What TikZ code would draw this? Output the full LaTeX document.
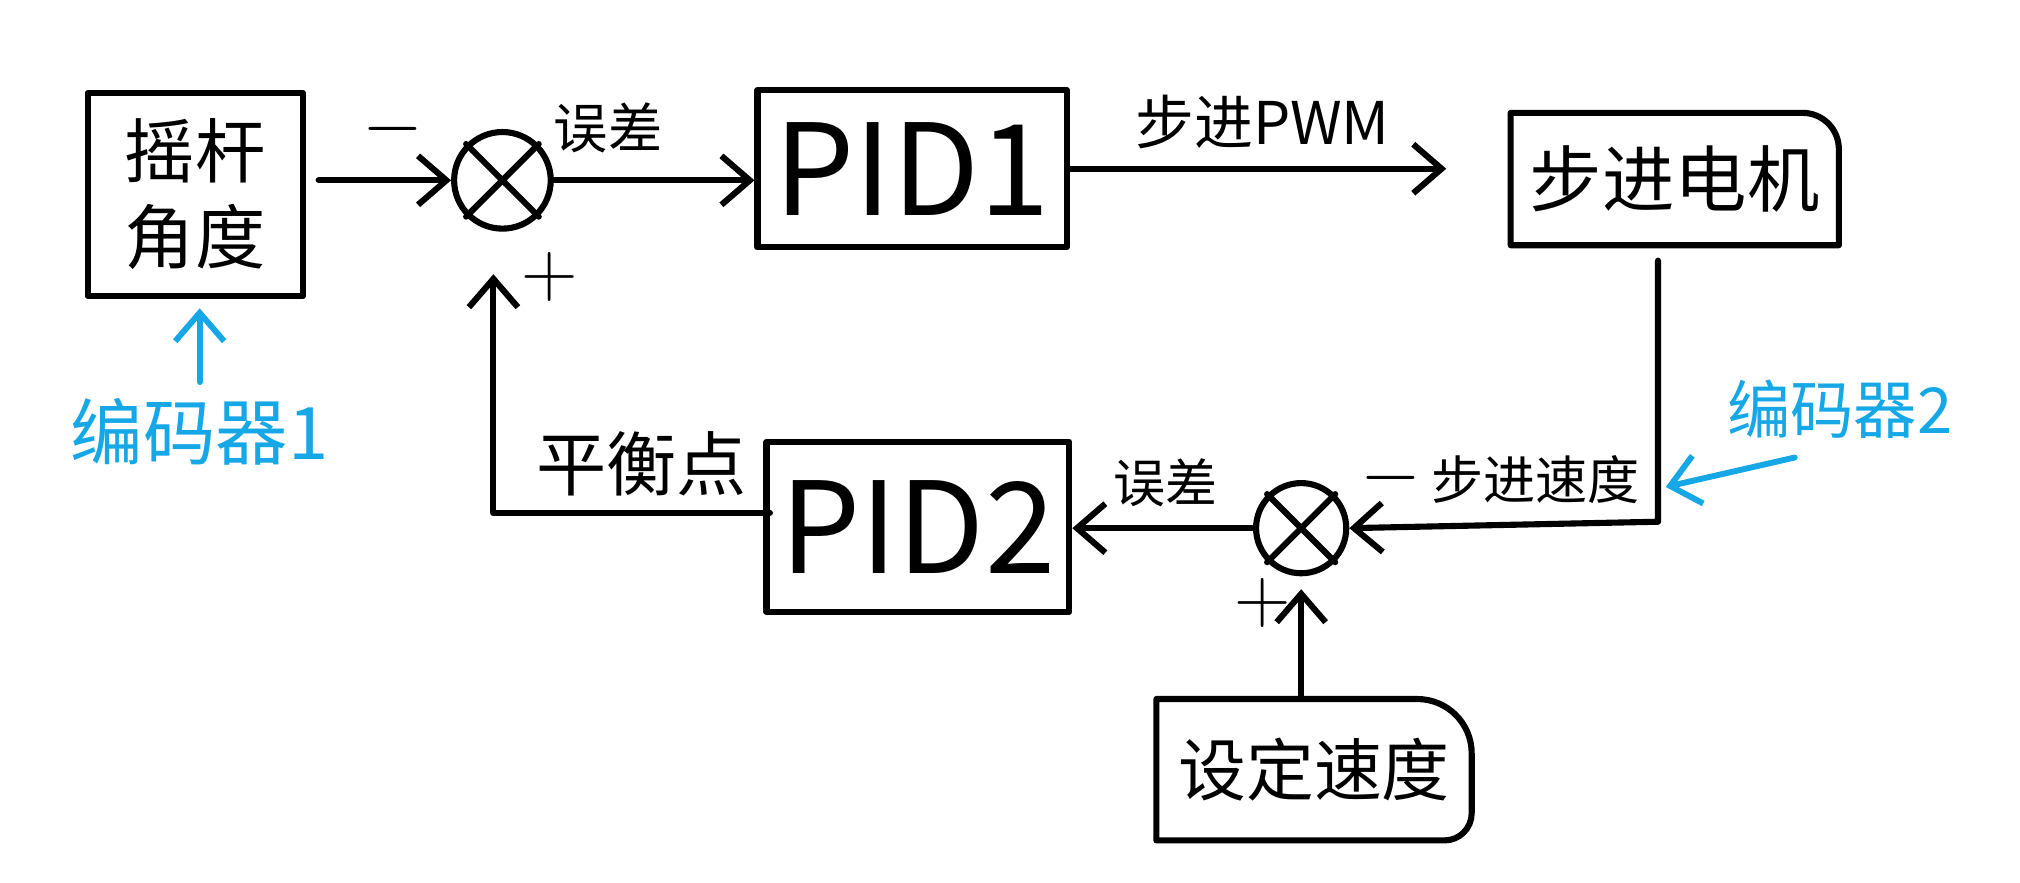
\documentclass[tikz,border=0pt]{standalone}
\usepackage{fontspec}
\setmainfont{Noto Sans CJK SC}
\usetikzlibrary{arrows.meta,calc}
\definecolor{encblue}{RGB}{22,167,230}
\newcommand{\myfs}[1]{\fontsize{#1}{#1}\selectfont}
\begin{document}
\begin{tikzpicture}[
  x=1cm,y=1cm,
  line width=1.35pt, line cap=round, line join=round,
  >={Straight Barb[length=2.2mm,width=3.8mm]},
  blk/.style={draw, rectangle, inner sep=0pt},
  nodraw/.style={rectangle, inner sep=0pt},
  sumnode/.style={draw, circle, inner sep=0pt, minimum size=#1},
  lbl/.style={inner sep=0pt},
  sgn/.style={inner sep=0pt, font={\myfs{18}}},
  enc/.style={encblue, text=encblue, inner sep=0pt},
]
\useasboundingbox (0,0) rectangle (15.68,6.85);

% blocks
\node[blk, minimum width=1.67cm, minimum height=1.58cm, align=center,
      font={\fontsize{15.5}{19}\selectfont}] (rock) at (1.515,5.34) {摇杆\\角度};
\node[sumnode=0.75cm] (s1) at (3.90,5.45) {};
\draw (s1.north west) -- (s1.south east) (s1.north east) -- (s1.south west);
\node[blk, minimum width=2.40cm, minimum height=1.22cm, font={\myfs{28}}] (pid1) at (7.08,5.54) {PID1};
\node[nodraw, minimum width=2.50cm, minimum height=0.98cm, font={\myfs{16}}] (motor) at (13.00,5.46) {步进电机};
\draw (motor.south west) [sharp corners] -- (motor.north west)
      [rounded corners=8pt] -- (motor.north east) [sharp corners] -- (motor.south east) -- cycle;
\node[sumnode=0.70cm] (s2) at (10.10,2.75) {};
\draw (s2.north west) -- (s2.south east) (s2.north east) -- (s2.south west);
\node[blk, minimum width=2.35cm, minimum height=1.32cm, font={\myfs{28}}] (pid2) at (7.125,2.76) {PID2};
\node[nodraw, minimum width=2.40cm, minimum height=1.05cm, font={\myfs{15}}] (setv) at (10.20,0.875) {设定速度};
\draw (setv.south west) [sharp corners] -- (setv.north west)
      [rounded corners=12pt] -- (setv.north east) [rounded corners=6pt] -- (setv.south east)
      [sharp corners] -- cycle;

% labels
\node[sgn] (m1) at (3.05,5.85) {$-$};
\node[lbl, font={\myfs{12}}] (e1) at (4.72,5.86) {误差};
\node[lbl, font={\myfs{13}}] (pwm) at (9.80,5.90) {步进PWM};
\node[sgn] (p1) at (4.27,4.70) {$+$};
\node[lbl, font={\myfs{15.5}}] (bal) at (4.98,3.25) {平衡点};
\node[lbl, font={\myfs{11.5}}] (e2) at (9.05,3.10) {误差};
\node[sgn] (m2) at (10.80,3.14) {$-$};
\node[lbl, font={\myfs{11.5}}] (spd) at (11.92,3.13) {步进速度};
\node[sgn] (p2) at (9.80,2.17) {$+$};
\node[enc, font={\myfs{16}}] (enc1) at (1.55,3.50) {编码器1};
\node[enc, font={\myfs{14}}] (enc2) at (14.28,3.67) {编码器2};

% connectors
\coordinate (c1) at (12.87,2.80);
\coordinate (c2) at (3.83,2.87);
\coordinate (e2tip) at (12.93,3.07);

\draw[->, shorten <=0.1cm] (rock.east |- s1) -- (s1.west);
\draw[->] (s1.east) -- (pid1.west |- s1.east);
\draw[->, shorten >=0.5cm] (pid1.east) -- (motor.west |- pid1.east);
\draw[->, shorten <=0.12cm] (motor.south -| c1) -- (c1) -- (s2.east);
\draw[->] (s2.west) -- (pid2.east |- s2.west);
\draw[->, shorten >=0.33cm, shorten <=-0.05cm] (pid2.west |- c2) -- (c2) -- (c2 |- s1.south);
\draw[->, shorten >=0.1cm] (s2 |- setv.north) -- (s2.south);
\draw[enc, ->, line width=1.3pt, shorten <=0.1cm, shorten >=0.07cm] (enc1.north) -- (enc1.north |- rock.south);
\draw[enc, ->, line width=1.3pt] ([xshift=0.55cm,yshift=-0.12cm]enc2.south west) -- (e2tip);
\end{tikzpicture}
\end{document}
